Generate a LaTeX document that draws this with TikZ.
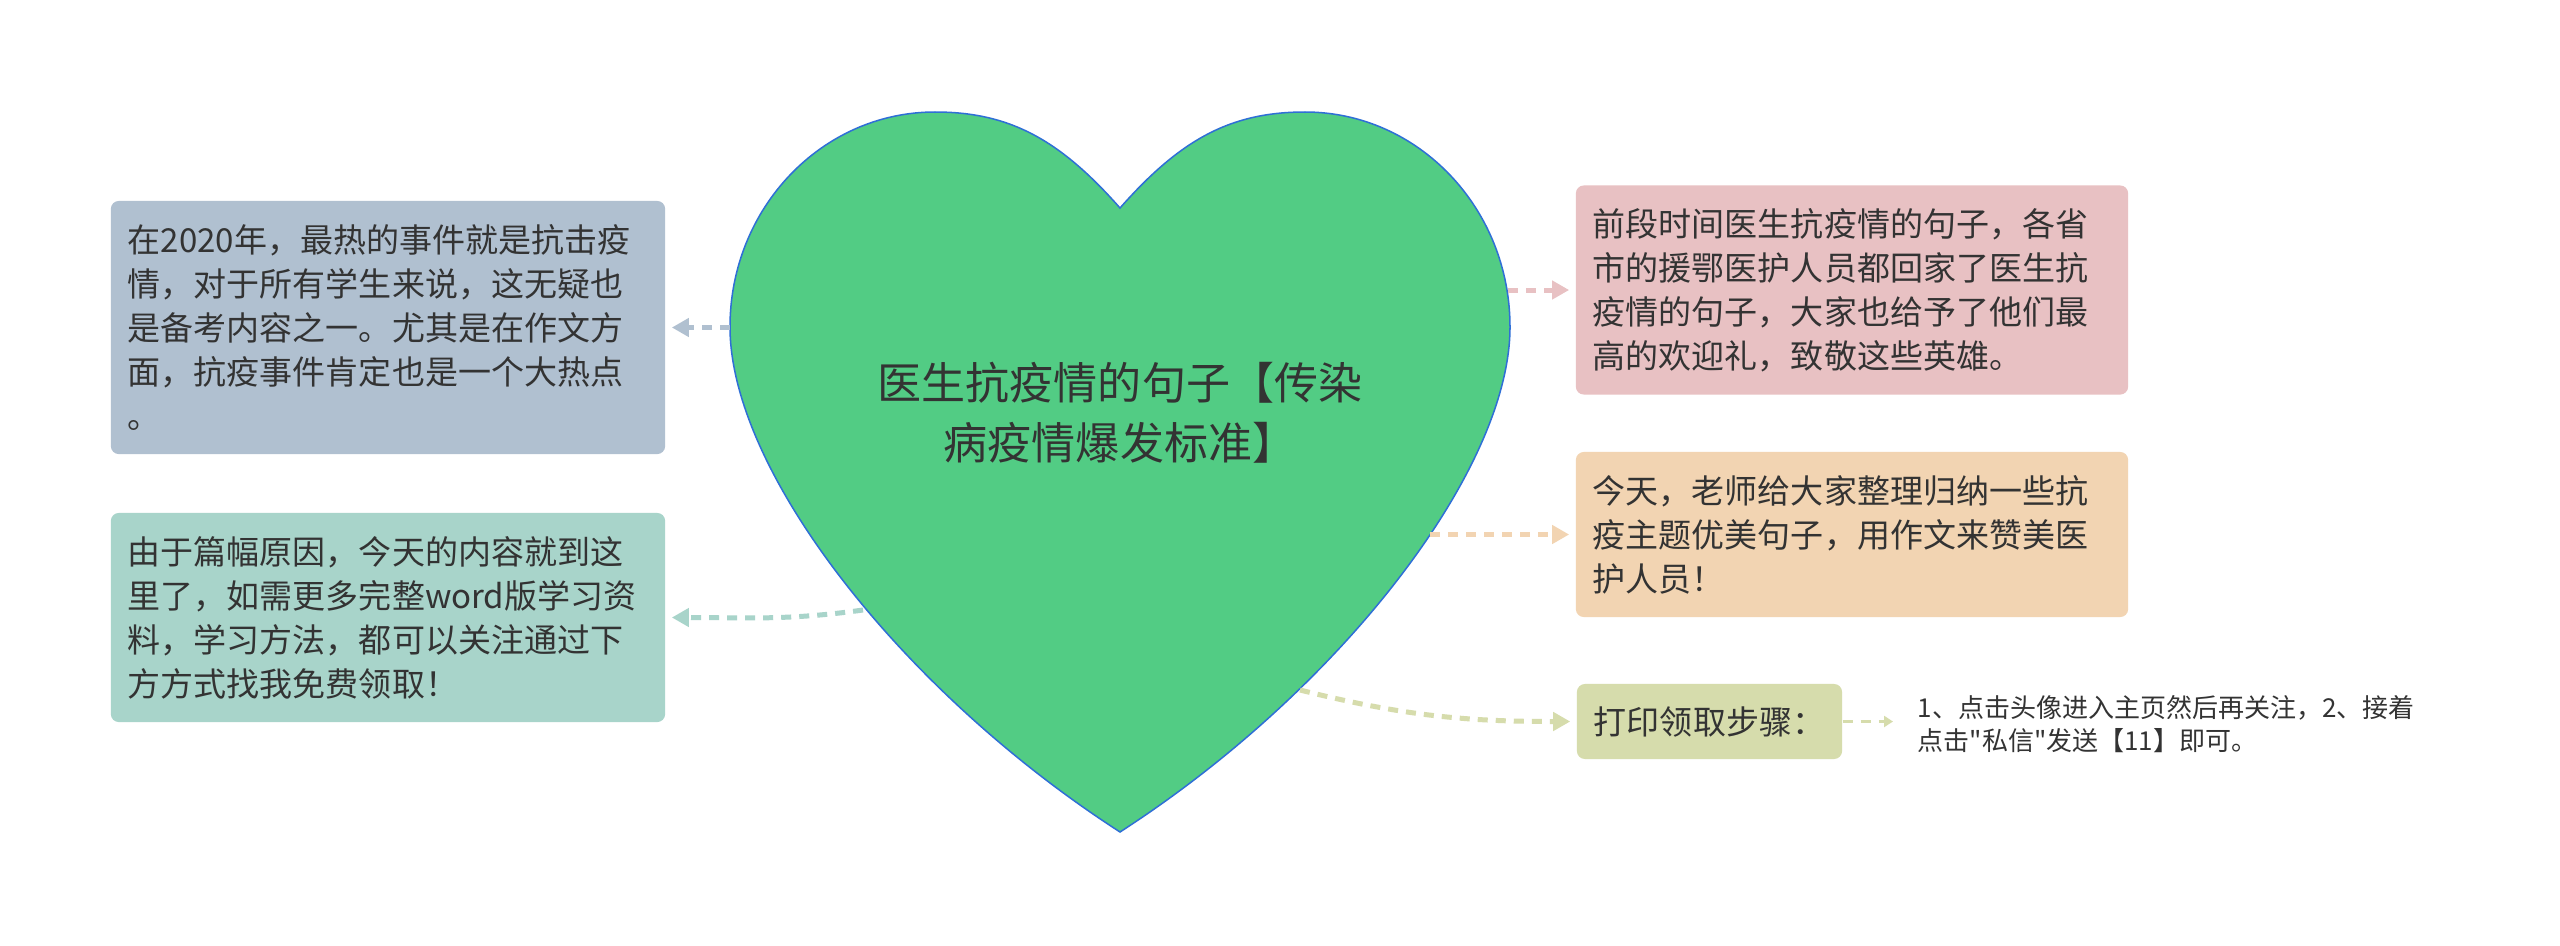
\documentclass[tikz,border=0pt]{standalone}
\usepackage{fontspec}
\newfontfamily\cjkfont{Noto Sans CJK SC}
\usetikzlibrary{arrows.meta}
\definecolor{heartgreen}{RGB}{82,204,132}
\definecolor{heartblue}{RGB}{47,111,214}
\definecolor{txtgray}{RGB}{51,51,51}
\definecolor{myslate}{RGB}{176,192,208}
\definecolor{myteal}{RGB}{168,212,202}
\definecolor{mypink}{RGB}{232,193,195}
\definecolor{mypeach}{RGB}{242,212,178}
\definecolor{mykhaki}{RGB}{214,220,172}

\tikzset{
topic/.style={rounded corners=0.08cm,inner xsep=0.17cm,inner ysep=0pt,text=txtgray,
  font=\cjkfont\fontsize{9.39pt}{12.5pt}\selectfont,align=left},
link/.style={line width=1.42pt,dash pattern=on 2.85pt off 2.28pt,
  -{Triangle[length=0.17cm,width=0.18cm]},shorten >=0.06cm},
leaflink/.style={line width=1pt,dash pattern=on 2.85pt off 2.28pt,
  -{Triangle[length=0.09cm,width=0.11cm]},shorten >=0.24cm},
}

\begin{document}
\begin{tikzpicture}[x=0.01cm,y=-0.01cm]
\fill[white] (0,0) rectangle (2560,945);
\useasboundingbox (0,0) rectangle (2560,945);

% heart
\filldraw[fill=heartgreen,draw=heartblue,line width=0.43pt]
  (1120,208) .. controls (1060,140) and (1010,112) .. (935,112)
  .. controls (822,112) and (730,208) .. (730,327)
  .. controls (730,470) and (900,690) .. (1120,832)
  .. controls (1340,690) and (1510,470) .. (1510,327)
  .. controls (1510,208) and (1418,112) .. (1305,112)
  .. controls (1230,112) and (1180,140) .. (1120,208) -- cycle;
\node[text=txtgray,font=\cjkfont\fontsize{12.52pt}{17.07pt}\selectfont,align=center]
  (title) at (1120,413) {医生抗疫情的句子【传染\\病疫情爆发标准】};

\coordinate (hl) at (730,327.5);
\coordinate (hll) at (863,610);
\coordinate (hr) at (1508,290);
\coordinate (hrm) at (1430,534.5);
\coordinate (hrl) at (1300,690);

% left side
\node[topic,fill=myslate,text width=5.2cm,minimum width=5.54cm,minimum height=2.53cm]
  (q1) at (388,327.5) {在2020年，最热的事件就是抗击疫\\情，对于所有学生来说，这无疑也\\是备考内容之一。尤其是在作文方\\面，抗疫事件肯定也是一个大热点\\。};
\node[topic,fill=myteal,text width=5.2cm,minimum width=5.54cm,minimum height=2.09cm]
  (q2) at (388,617.5) {由于篇幅原因，今天的内容就到这\\里了，如需更多完整word版学习资\\料，学习方法，都可以关注通过下\\方方式找我免费领取！};

% right side
\node[topic,fill=mypink,text width=5.18cm,minimum width=5.52cm,minimum height=2.09cm]
  (p1) at (1852,290) {前段时间医生抗疫情的句子，各省\\市的援鄂医护人员都回家了医生抗\\疫情的句子，大家也给予了他们最\\高的欢迎礼，致敬这些英雄。};
\node[topic,fill=mypeach,text width=5.18cm,minimum width=5.52cm,minimum height=1.65cm]
  (p2) at (1852,534.5) {今天，老师给大家整理归纳一些抗\\疫主题优美句子，用作文来赞美医\\护人员！};
\node[topic,fill=mykhaki,text width=2.31cm,minimum width=2.65cm,minimum height=0.75cm]
  (p3) at (1709.5,721.5) {打印领取步骤：};
\node[text=txtgray,font=\cjkfont\fontsize{7.4pt}{9.39pt}\selectfont,align=left,
  inner sep=0pt,anchor=west] (leaf) at (1917,724)
  {1、点击头像进入主页然后再关注，2、接着\\点击"私信"发送【11】即可。};

% connectors
\draw[link,myslate] (hl) -- (q1.east);
\draw[link,myteal] (hll) to[out=188,in=0] (q2.east);
\draw[link,mypink] (hr) -- (p1.west);
\draw[link,mypeach] (hrm) -- (p2.west);
\draw[link,mykhaki] (hrl) to[out=-14,in=180] (p3.west);
\draw[leaflink,mykhaki] (p3.east) -- (p3.east -| leaf.west);
\end{tikzpicture}
\end{document}
